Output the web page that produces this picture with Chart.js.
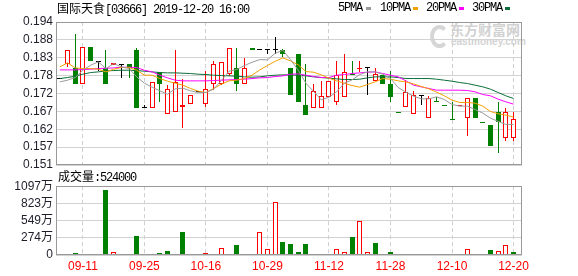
<!DOCTYPE html>
<html>
<head>
<meta charset="utf-8">
<script src="https://cdn.jsdelivr.net/npm/chart.js@4.4.0/dist/chart.umd.min.js"></script>
<style>
body { margin: 0; background: #fff; }
#wrap { position: relative; width: 578px; height: 276px; overflow: hidden; }
.t { position: absolute; top: 1px; font-size: 12px; line-height: 14px; white-space: nowrap; color: #000; z-index: 2; }
.cjk { font-family: 'Noto Sans CJK SC', sans-serif; }
.mono { font-family: 'Liberation Mono', monospace; letter-spacing: -1.2px; }
.key { position: absolute; top: 7px; width: 5px; height: 3px; z-index: 2; }
canvas { position: absolute; left: 0; z-index: 1; }
.wm { position: absolute; color: #d2d2d2; font-weight: bold; white-space: nowrap; z-index: 0; }
</style>
</head>
<body>
<div id="wrap">
  <div class="t" style="left:57px"><span class="cjk">国际天食</span><span class="mono">[03666] 2019-12-20 16:00</span></div>
  <div class="t mono" style="left:338px">5PMA</div><div class="key" style="left:366px;background:#9a9a9a"></div>
  <div class="t mono" style="left:380px">10PMA</div><div class="key" style="left:413px;background:#f2a100"></div>
  <div class="t mono" style="left:426px">20PMA</div><div class="key" style="left:459px;background:#ff00ff"></div>
  <div class="t mono" style="left:472px">30PMA</div><div class="key" style="left:505px;background:#0b6e3a"></div>

  <div class="wm" style="left:430px;top:25px;width:11px;height:15px;border:4px solid #d6d6d6;border-right-color:transparent;border-radius:50%;"></div>
  <div class="wm cjk" style="left:450px;top:21px;font-size:14px;line-height:16px">东方财富网</div>
  <div class="wm" style="left:451px;top:37px;font-size:10px;line-height:10px;font-family:'Liberation Sans',Arial,sans-serif">eastmoney.com</div>

  <div class="t" style="left:58px;top:169px"><span class="cjk">成交量</span><span class="mono">:524000</span></div>

  <canvas id="kline" width="578" height="180" style="top:0"></canvas>
  <canvas id="vol" width="578" height="100" style="top:176px"></canvas>
</div>
<script>
// ticks
const xTickIdx = [3, 11, 19, 27, 35, 43, 51, 59];
const xTickLabels = ['09-11', '09-25', '10-16', '10-29', '11-12', '11-28', '12-10', '12-20'];
const yTickLabels = ['0.151', '0.157', '0.162', '0.167', '0.172', '0.178', '0.183', '0.188', '0.194'];
const volTickLabels = ['0', '274万', '549万', '823万', '1097万'];

// daily candles
const opens = [0.177, 0.1815, 0.1803, 0.1755, 0.1864, 0.1821, 0.1803, 0.1812, 0.1812, 0.1813,
  0.1855, 0.1682, 0.1682, 0.179, 0.1662, 0.167, 0.1683, 0.1692, 0.173, 0.1692,
  0.1755, 0.1755, 0.1785, 0.1803, 0.1755, 0.1862, 0.1855, 0.1855, 0.1855, 0.1855,
  0.1803, 0.1843, 0.169, 0.1682, 0.1682, 0.1713, 0.170, 0.1713, 0.1785, 0.180,
  0.1802, 0.1763, 0.178, 0.1753, 0.167, 0.1683, 0.1662, 0.1717, 0.165, 0.1703,
  0.169, 0.1648, 0.1688, 0.165, 0.171, 0.1638, 0.163, 0.167, 0.159, 0.159];
const highs = [0.177, 0.1855, 0.1905, 0.1864, 0.1864, 0.1821, 0.1855, 0.1817, 0.1812, 0.1813,
  0.1863, 0.169, 0.1761, 0.179, 0.175, 0.1855, 0.177, 0.172, 0.173, 0.1792,
  0.1822, 0.182, 0.1863, 0.1863, 0.1833, 0.1862, 0.186, 0.1855, 0.1895, 0.1859,
  0.1803, 0.1843, 0.1813, 0.1753, 0.1763, 0.1762, 0.1822, 0.1843, 0.1822, 0.1822,
  0.1802, 0.1803, 0.178, 0.1793, 0.167, 0.1765, 0.1732, 0.1717, 0.1717, 0.1713,
  0.169, 0.170, 0.169, 0.171, 0.171, 0.1638, 0.163, 0.170, 0.168, 0.167];
const lows = [0.177, 0.1805, 0.1755, 0.1755, 0.1823, 0.1793, 0.1755, 0.1812, 0.1773, 0.1773,
  0.1682, 0.1682, 0.1682, 0.170, 0.1662, 0.167, 0.162, 0.1692, 0.173, 0.1683,
  0.1737, 0.175, 0.1778, 0.1732, 0.1755, 0.1855, 0.1855, 0.1845, 0.1845, 0.1835,
  0.1721, 0.170, 0.166, 0.1682, 0.168, 0.1713, 0.169, 0.1713, 0.178, 0.179,
  0.172, 0.1763, 0.1755, 0.170, 0.1667, 0.1683, 0.1662, 0.169, 0.165, 0.170,
  0.1688, 0.1645, 0.1688, 0.1597, 0.165, 0.1635, 0.1568, 0.1547, 0.1582, 0.1582];
const closes = [0.177, 0.1855, 0.1755, 0.1864, 0.1823, 0.1821, 0.1755, 0.1817, 0.1812, 0.1803,
  0.1682, 0.1682, 0.1761, 0.1755, 0.174, 0.176, 0.1689, 0.172, 0.173, 0.174,
  0.1813, 0.182, 0.1863, 0.1755, 0.1803, 0.1855, 0.1855, 0.1855, 0.1855, 0.1845,
  0.1721, 0.170, 0.166, 0.1732, 0.1718, 0.1762, 0.1782, 0.179, 0.1782, 0.1802,
  0.1802, 0.1783, 0.1755, 0.1713, 0.1667, 0.173, 0.172, 0.1717, 0.171, 0.170,
  0.1688, 0.1645, 0.169, 0.171, 0.165, 0.1635, 0.1568, 0.164, 0.1669, 0.1648];
// volume, 万
const volumes = [0, 12, 30, 12, 0, 0, 1030, 48, 0, 0,
  305, 0, 12, 37, 68, 20, 370, 0, 12, 27,
  14, 108, 14, 160, 12, 12, 370, 96, 846, 214,
  177, 48, 177, 12, 12, 12, 92, 48, 289, 546,
  48, 193, 0, 48, 14, 14, 14, 0, 14, 14,
  0, 14, 14, 96, 0, 14, 80, 64, 160, 52.4];

// moving averages
const ma5 = [0.176, 0.1765, 0.1773, 0.1795, 0.181, 0.182, 0.180, 0.1815, 0.1805, 0.180,
  0.1775, 0.1756, 0.1744, 0.1733, 0.1723, 0.1739, 0.1741, 0.1733, 0.1728, 0.1728,
  0.1738, 0.1764, 0.1792, 0.1797, 0.1809, 0.1819, 0.1827, 0.1826, 0.1846, 0.1855,
  0.1827, 0.1795, 0.1756, 0.1731, 0.1706, 0.1714, 0.173, 0.1756, 0.1766, 0.1782,
  0.179, 0.179, 0.1783, 0.177, 0.1743, 0.1729, 0.1717, 0.1709, 0.1709, 0.1715,
  0.1707, 0.1692, 0.1687, 0.1687, 0.1677, 0.1666, 0.1651, 0.1641, 0.1632, 0.1632];
const ma10 = [0.1805, 0.1817, 0.1802, 0.180, 0.180, 0.1798, 0.179, 0.1798, 0.1803, 0.1803,
  0.1795, 0.178, 0.178, 0.177, 0.1762, 0.1756, 0.175, 0.174, 0.1732, 0.1728,
  0.174, 0.1753, 0.1763, 0.1765, 0.177, 0.178, 0.1796, 0.1809, 0.1822, 0.1832,
  0.1823, 0.1811, 0.1791, 0.1789, 0.1781, 0.1771, 0.1763, 0.1756, 0.1749, 0.1744,
  0.1752, 0.176, 0.177, 0.1768, 0.1763, 0.176, 0.1754, 0.1746, 0.1739, 0.1729,
  0.1718, 0.1705, 0.1698, 0.1698, 0.1696, 0.1687, 0.1671, 0.1664, 0.166, 0.1654];
const ma20 = [0.1796, 0.1796, 0.1796, 0.1797, 0.1798, 0.180, 0.1801, 0.1802, 0.1804, 0.1804,
  0.1803, 0.1795, 0.179, 0.178, 0.1772, 0.1765, 0.1763, 0.1763, 0.1763, 0.1763,
  0.1764, 0.1765, 0.1766, 0.1767, 0.1768, 0.177, 0.1772, 0.1773, 0.1776, 0.1778,
  0.1783, 0.1784, 0.178, 0.1776, 0.1773, 0.1773, 0.178, 0.1782, 0.1785, 0.1787,
  0.1789, 0.179, 0.1785, 0.178, 0.1775, 0.1763, 0.175, 0.1745, 0.174, 0.1735,
  0.1735, 0.1735, 0.1735, 0.1734, 0.173, 0.1722, 0.1718, 0.1708, 0.170, 0.1693];
const ma30 = [0.177, 0.1773, 0.1777, 0.1783, 0.1788, 0.179, 0.1793, 0.1794, 0.1795, 0.1795,
  0.1794, 0.1792, 0.179, 0.1788, 0.1787, 0.1787, 0.1786, 0.1785, 0.1783, 0.1782,
  0.178, 0.1779, 0.1778, 0.1777, 0.1775, 0.1774, 0.1775, 0.1778, 0.178, 0.1781,
  0.1781, 0.178, 0.1778, 0.1775, 0.1773, 0.1771, 0.1769, 0.1767, 0.1767, 0.1768,
  0.1772, 0.1775, 0.1775, 0.1775, 0.1773, 0.177, 0.177, 0.177, 0.177, 0.1768,
  0.1765, 0.1762, 0.1758, 0.1755, 0.175, 0.1745, 0.1738, 0.1728, 0.1718, 0.171];

const RED = '#ff0000', GREEN = '#008000', DOJI = '#000000';
const idx = opens.map((_, i) => i);
const cColors = idx.map(i => closes[i] > opens[i] ? RED : (closes[i] < opens[i] ? GREEN : DOJI));
const bodyFill = idx.map(i => cColors[i] === RED ? '#ffffff' : cColors[i]);
const volUp = idx.map(i => i === 0 || closes[i] >= closes[i - 1]);

const numFont = { family: "'Liberation Sans', Arial, sans-serif", size: 12 };

const frame = {
  id: 'frame',
  afterDraw(chart) {
    const { ctx, chartArea: a } = chart;
    ctx.save();
    ctx.strokeStyle = '#999999';
    ctx.lineWidth = 1;
    ctx.strokeRect(Math.round(a.left) + 0.5, Math.round(a.top) + 0.5,
      Math.round(a.right - a.left) - 1, Math.round(a.bottom - a.top) - 1);
    ctx.restore();
  }
};

// keep candle and volume bars on whole pixels so the 1px outlines stay sharp
const snap = {
  id: 'snap',
  afterDatasetsUpdate(chart) {
    chart.data.datasets.forEach((ds, di) => {
      const meta = chart.getDatasetMeta(di);
      if (meta.type !== 'bar') return;
      meta.data.forEach(el => {
        el.x = Math.floor(el.x) + 0.5;
        el.y = Math.round(el.y);
        el.base = Math.round(el.base);
      });
    });
  }
};

function xAxis(showLabels) {
  return {
    type: 'linear', min: -0.5, max: 60.1, bounds: 'data', offset: false,
    afterBuildTicks: s => { s.ticks = xTickIdx.map(v => ({ value: v })); },
    afterFit: s => { s.height = showLabels ? 21 : 0; },
    grid: { color: '#cfcfcf', drawTicks: false, offset: false },
    border: { display: false, dash: [4, 3] },
    ticks: {
      display: showLabels, padding: 4, maxRotation: 0, autoSkip: false,
      color: '#ff0000', font: numFont,
      callback: (v, i) => xTickLabels[i]
    }
  };
}

function maLine(label, values, color) {
  return {
    type: 'line', label: label,
    data: idx.map(i => ({ x: i, y: values[i] })),
    borderColor: color, borderWidth: 1, pointRadius: 0, tension: 0, order: 0
  };
}

new Chart(document.getElementById('kline'), {
  type: 'bar',
  data: {
    datasets: [
      maLine('5PMA', ma5, '#9a9a9a'),
      maLine('10PMA', ma10, '#f2a100'),
      maLine('20PMA', ma20, '#ff00ff'),
      maLine('30PMA', ma30, '#0b6e3a'),
      {
        label: 'body',
        data: idx.map(i => ({ x: i, y: [opens[i], closes[i]] })),
        backgroundColor: bodyFill, borderColor: cColors, borderWidth: 1,
        borderSkipped: false, grouped: false, maxBarThickness: 5, minBarLength: 1,
        inflateAmount: 0, order: 1
      },
      {
        label: 'wick',
        data: idx.map(i => ({ x: i, y: [lows[i], highs[i]] })),
        backgroundColor: cColors, borderWidth: 0,
        grouped: false, maxBarThickness: 1, inflateAmount: 0, order: 2
      }
    ]
  },
  options: {
    responsive: false, animation: false, devicePixelRatio: 1,
    layout: { padding: { left: 0, right: 56, top: 22, bottom: 15 } },
    plugins: { legend: { display: false }, tooltip: { enabled: false } },
    scales: {
      x: xAxis(false),
      y: {
        min: 0.151, max: 0.194, bounds: 'data',
        afterBuildTicks: s => { s.ticks = yTickLabels.map((_, i) => ({ value: 0.151 + (0.194 - 0.151) * i / 8 })); },
        afterFit: s => { s.width = 56; },
        grid: { color: '#d2d2d2', drawTicks: false },
        border: { display: false },
        ticks: { padding: 3, autoSkip: false, color: '#1e1e2a', font: numFont, callback: (v, i) => yTickLabels[i] }
      }
    }
  },
  plugins: [snap, frame]
});

new Chart(document.getElementById('vol'), {
  type: 'bar',
  data: {
    datasets: [{
      label: '成交量',
      data: idx.map(i => ({ x: i, y: volumes[i] })),
      backgroundColor: idx.map(i => volUp[i] ? '#ffffff' : GREEN),
      borderColor: idx.map(i => volUp[i] ? RED : GREEN),
      borderWidth: 1, borderSkipped: false, grouped: false, maxBarThickness: 5,
      inflateAmount: 0
    }]
  },
  options: {
    responsive: false, animation: false, devicePixelRatio: 1,
    layout: { padding: { left: 0, right: 56, top: 10, bottom: 0 } },
    plugins: { legend: { display: false }, tooltip: { enabled: false } },
    scales: {
      x: xAxis(true),
      y: {
        min: 0, max: 1097, bounds: 'data',
        afterBuildTicks: s => { s.ticks = volTickLabels.map((_, i) => ({ value: 1097 * i / 4 })); },
        afterFit: s => { s.width = 56; },
        grid: { color: '#d2d2d2', drawTicks: false },
        border: { display: false },
        ticks: {
          padding: 3, autoSkip: false, color: '#1e1e2a',
          font: { family: "'Liberation Sans', 'Noto Sans CJK SC', sans-serif", size: 12 },
          callback: (v, i) => volTickLabels[i]
        }
      }
    }
  },
  plugins: [snap, frame]
});
</script>
</body>
</html>
